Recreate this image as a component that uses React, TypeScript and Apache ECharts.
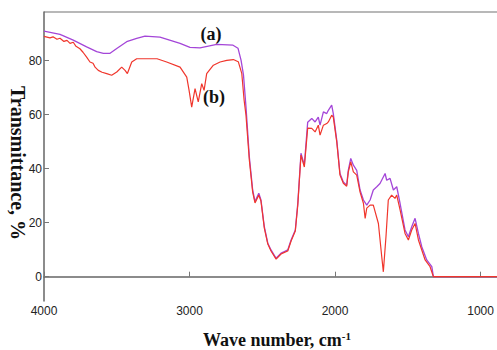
import { useEffect, useRef } from "react";
import * as echarts from "echarts";

// Spectrum (a): wavenumber (cm-1) and transmittance (%)
const waveA = [
  4000, 3890, 3799, 3707, 3638, 3592, 3546, 3500, 3432, 3363, 3306, 3203, 3065, 2997, 2928, 2813, 2701,
  2667, 2646, 2629, 2612, 2589, 2566, 2550, 2524, 2509, 2486, 2462, 2440, 2405, 2371, 2348, 2325, 2302,
  2273, 2256, 2234, 2211, 2188, 2160, 2137, 2115, 2103, 2080, 2057, 2046, 2023, 2012, 1988, 1966, 1943,
  1920, 1909, 1892, 1874, 1851, 1828, 1805, 1782, 1759, 1737, 1713, 1691, 1656, 1645, 1622, 1599, 1576,
  1553, 1519, 1496, 1473, 1450, 1427, 1404, 1370, 1335, 1324, 887,
];
const transA = [
  90.9, 89.7, 87.6, 85.1, 83.3, 82.7, 82.7, 84.5, 87.0, 88.2, 89.1, 88.7, 86.4, 84.9, 84.7, 86.0, 85.7,
  84.6, 80.2, 74.6, 62.9, 44.4, 32.1, 27.8, 30.9, 28.4, 18.5, 12.4, 9.9, 6.8, 8.7, 9.3, 9.9, 13.6,
  17.3, 27.2, 45.7, 41.3, 57.2, 58.6, 57.3, 59.1, 56.1, 61.0, 60.4, 61.6, 63.5, 60.4, 50.5, 38.2, 35.1,
  33.9, 39.4, 43.8, 41.3, 39.4, 32.1, 28.4, 26.5, 28.4, 32.1, 33.3, 34.5, 38.2, 35.7, 36.4, 32.1, 33.3,
  27.1, 17.3, 14.8, 18.5, 21.6, 16.0, 11.1, 6.2, 3.7, 0, 0,
];

// Spectrum (b): wavenumber (cm-1) and transmittance (%)
const waveB = [
  4000, 3959, 3938, 3911, 3890, 3863, 3842, 3821, 3799, 3780, 3753, 3732, 3707, 3684, 3663, 3649, 3627,
  3601, 3569, 3535, 3500, 3466, 3443, 3427, 3397, 3363, 3340, 3223, 3157, 3065, 3019, 3003, 2985, 2962,
  2940, 2916, 2900, 2882, 2836, 2790, 2744, 2699, 2665, 2641, 2625, 2612, 2589, 2566, 2550, 2524, 2509,
  2486, 2462, 2440, 2405, 2371, 2348, 2325, 2302, 2273, 2256, 2234, 2211, 2188, 2160, 2137, 2115, 2103,
  2080, 2057, 2046, 2023, 2012, 1988, 1966, 1943, 1920, 1909, 1892, 1874, 1851, 1828, 1805, 1793, 1782,
  1759, 1737, 1702, 1679, 1668, 1650, 1634, 1611, 1588, 1576, 1553, 1519, 1496, 1473, 1450, 1427, 1404,
  1381, 1347, 1324, 887,
];
const transB = [
  89.0, 88.4, 88.8, 87.9, 88.3, 87.1, 87.5, 86.4, 86.8, 85.3, 84.4, 83.1, 81.3, 79.5, 79.0, 77.6, 76.4,
  75.7, 75.2, 74.6, 75.8, 77.6, 76.4, 75.2, 79.5, 80.7, 80.7, 80.7, 79.5, 77.6, 73.9, 69.0, 62.8, 69.6,
  64.7, 71.5, 69.0, 75.2, 78.3, 79.5, 80.1, 80.4, 79.6, 75.3, 65.4, 59.8, 43.2, 31.3, 27.3, 30.2, 28.0,
  18.0, 12.1, 9.5, 6.5, 8.4, 9.0, 9.5, 13.2, 16.9, 26.5, 45.0, 40.6, 55.0, 54.9, 53.6, 56.1, 52.4,
  56.1, 56.7, 57.3, 59.8, 59.1, 49.8, 37.6, 34.6, 33.5, 38.7, 42.5, 38.8, 37.6, 31.3, 27.2, 21.6, 25.4,
  26.5, 26.5, 19.7, 7.4, 1.8, 14.8, 28.4, 30.2, 29.0, 30.2, 24.7, 16.0, 13.6, 17.3, 19.7, 13.6, 9.9,
  6.2, 3.7, 0, 0,
];

const xTicks = [4000, 3000, 2000, 1000];
const yTicks = [0, 20, 40, 60, 80];
const curveLabels = ["(a)", "(b)"];
const xName = "Wave number, cm";
const xNameSup = "-1";
const yName = "Transmittance, %";

const zip = (xs: number[], ys: number[]) => xs.map((x, i) => [x, ys[i]]);

const serif = "'Liberation Serif', 'Times New Roman', serif";
const tickFont = "'Liberation Sans Narrow', 'Arial Narrow', 'Liberation Sans', Arial, sans-serif";

export default function App() {
  const ref = useRef<HTMLDivElement>(null);

  useEffect(() => {
    const chart = echarts.init(ref.current!, null, { renderer: "svg" });
    chart.setOption({
      animation: false,
      backgroundColor: "#ffffff",
      grid: {
        left: 44,
        right: 0,
        top: 12,
        bottom: 49,
        containLabel: false,
        outerBoundsMode: "none",
      },
      xAxis: {
        type: "value",
        min: 887,
        max: 4000,
        inverse: true,
        axisLine: { show: true, lineStyle: { color: "#666", width: 1.5 } },
        axisTick: {
          show: true,
          inside: true,
          length: 5,
          customValues: xTicks,
          lineStyle: { color: "#777", width: 1 },
        },
        axisLabel: {
          customValues: xTicks,
          formatter: (v: number) => String(v),
          margin: 4,
          fontSize: 12,
          fontFamily: tickFont,
          color: "#222",
        },
        splitLine: { show: false },
      },
      yAxis: {
        type: "value",
        min: -9,
        max: 98,
        axisLine: { show: true, lineStyle: { color: "#666", width: 1.5 } },
        axisTick: {
          show: true,
          inside: true,
          length: 5,
          customValues: yTicks,
          lineStyle: { color: "#777", width: 1 },
        },
        axisLabel: {
          customValues: yTicks,
          formatter: (v: number) => String(v),
          margin: 2,
          fontSize: 12,
          fontFamily: tickFont,
          color: "#222",
        },
        splitLine: { show: false },
      },
      graphic: [
        {
          type: "line",
          shape: { x1: 44, y1: 12, x2: 497, y2: 12 },
          style: { stroke: "#a0a0a0", lineWidth: 1.5 },
          silent: true,
        },
        {
          type: "text",
          x: 211,
          y: 34,
          style: {
            text: curveLabels[0],
            font: `bold 18px ${serif}`,
            fill: "#111",
            align: "center",
            verticalAlign: "middle",
          },
        },
        {
          type: "text",
          x: 214,
          y: 97,
          style: {
            text: curveLabels[1],
            font: `bold 18px ${serif}`,
            fill: "#111",
            align: "center",
            verticalAlign: "middle",
          },
        },
        {
          type: "text",
          x: 277,
          y: 340,
          style: {
            text: `{m|${xName}}{s|${xNameSup}}`,
            align: "center",
            verticalAlign: "middle",
            rich: {
              m: { font: `bold 18px ${serif}`, fill: "#111", lineHeight: 20 },
              s: { font: `bold 11px ${serif}`, fill: "#111", verticalAlign: "top", lineHeight: 12 },
            },
          },
        },
        {
          type: "text",
          x: 18,
          y: 163,
          rotation: -Math.PI / 2,
          style: {
            text: yName,
            font: `bold 20px ${serif}`,
            fill: "#111",
            align: "center",
            verticalAlign: "middle",
          },
        },
      ],
      series: [
        {
          name: "a",
          type: "line",
          data: zip(waveA, transA),
          showSymbol: false,
          lineStyle: { color: "#a446d8", width: 1.3 },
          z: 2,
        },
        {
          name: "b",
          type: "line",
          data: zip(waveB, transB),
          showSymbol: false,
          lineStyle: { color: "#f0362c", width: 1.2 },
          z: 3,
        },
      ],
    });
    return () => chart.dispose();
  }, []);

  return (
    <div
      ref={ref}
      style={{ position: "fixed", left: 0, top: 0, width: 497, height: 350, background: "#fff" }}
    />
  );
}
